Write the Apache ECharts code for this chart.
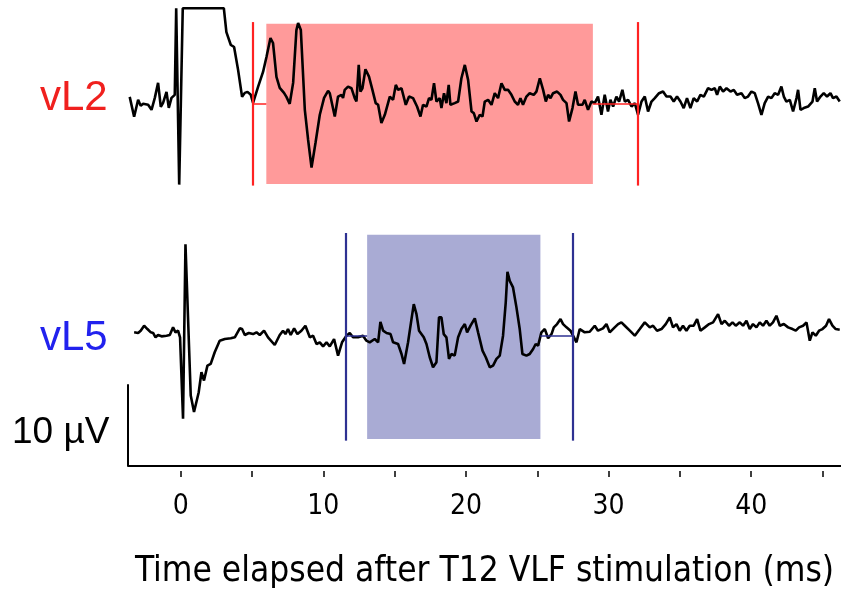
<!DOCTYPE html>
<html>
<head>
<meta charset="utf-8">
<script src="https://cdn.jsdelivr.net/npm/echarts@6/dist/echarts.min.js"></script>
<style>
  html, body { margin: 0; padding: 0; background: #fff; }
  #chart { width: 841px; height: 594px; }
</style>
</head>
<body>
<div id="chart"></div>
<script>
// time (ms) and amplitude (µV, relative to each trace's baseline)
const vL2Trace = [
  [-3.58, 0.85], [-3.27, -1.59], [-2.99, 0.49], [-2.81, -0.24], [-2.64, 0], [-2.29, -0.12], [-2.05, -0.73],
  [-1.82, 0.73], [-1.59, 2.56], [-1.40, -0.37], [-1.24, 0.12], [-1.00, 1.46], [-0.84, -0.49], [-0.65, 0.73],
  [-0.42, 1.10], [-0.32, 11.7], [-0.11, -9.88], [0.14, 11.7], [3.02, 11.7], [3.20, 8.78], [3.51, 7.20],
  [3.74, 6.95], [4.02, 4.15], [4.30, 0.85], [4.49, 1.34], [4.68, 1.46], [4.91, 1.10], [5.07, 0.12],
  [5.42, 2.07], [5.77, 3.90], [6.01, 5.73], [6.29, 8.05], [6.47, 7.44], [6.71, 3.29], [6.94, 1.95],
  [7.24, 1.34], [7.41, 0.85], [7.64, 0], [7.88, 2.56], [8.11, 9.02], [8.23, 9.88], [8.42, 9.02],
  [8.70, -0.73], [8.93, -4.39], [9.17, -7.80], [9.45, -4.76], [9.75, -1.34], [10.05, 0.73], [10.33, 1.59],
  [10.45, 1.30], [10.80, -1.55], [11.03, 0.89], [11.27, 1.10], [11.38, 0.73], [11.50, 1.71], [11.73, 2.11],
  [11.97, 1.91], [12.20, 0.70], [12.32, 0.28], [12.48, 4.76], [12.60, 1.50], [12.74, 1.91], [12.95, 4.23],
  [13.20, 3.33], [13.44, 1.71], [13.67, 0.09], [13.84, -0.12], [14.07, -2.35], [14.31, -1.34], [14.66, 0.89],
  [14.89, 0.49], [15.08, 2.32], [15.24, 1.71], [15.48, 1.91], [15.78, -0.12], [16.01, 0.89], [16.29, 0.70],
  [16.57, -0.33], [16.81, -1.55], [16.99, -0.12], [17.23, -0.33], [17.41, 0.70], [17.58, 0.49], [17.76, 2.52],
  [17.93, 0.28], [18.16, 0.70], [18.28, -0.52], [18.46, 1.30], [18.63, 0.09], [18.79, 2.32], [18.91, -0.12],
  [19.21, 0.09], [19.45, 0.28], [19.68, 3.13], [19.92, 4.76], [20.15, 2.93], [20.39, -0.94], [20.55, -1.13],
  [20.74, -2.16], [20.97, -1.34], [21.16, -1.55], [21.32, 0.28], [21.55, 0.49], [21.79, -0.12], [22.02, 1.30],
  [22.25, 0.70], [22.49, 2.52], [22.72, 1.71], [22.95, 1.71], [23.19, 1.10], [23.42, 0.28], [23.65, -0.12],
  [23.82, 0.70], [24.00, -0.12], [24.24, 0.89], [24.47, 1.30], [24.75, 1.10], [24.94, 1.50], [25.18, 3.13],
  [25.41, 1.71], [25.60, 0.28], [25.76, 1.10], [25.93, 0.70], [26.11, 1.30], [26.39, 1.50], [26.63, 1.10],
  [26.81, 0.49], [27.05, 0.09], [27.23, -2.16], [27.47, -0.52], [27.68, 1.50], [27.86, -0.12], [28.17, -0.12],
  [28.33, 0.49], [28.56, -0.73], [28.80, 0.28], [29.03, 0.09], [29.26, 0.89], [29.50, -1.34], [29.73, 1.10],
  [29.96, -0.94], [30.13, 0.49], [30.32, -0.33], [30.55, 0.89], [30.74, 0.28], [30.97, 1.71], [31.14, 0.28],
  [31.37, 0.49], [31.61, -0.33], [31.84, 0.09], [32.07, -1.34], [32.31, 0.28], [32.54, 0.89], [32.77, -0.94],
  [33.01, 0.28], [33.24, 0.70], [33.54, 1.30], [33.82, 1.50], [34.06, 0.89], [34.34, 0.89], [34.57, 0.28],
  [34.80, 0.89], [35.04, 0.28], [35.27, -0.52], [35.50, 0.70], [35.74, -0.52], [35.97, 0.70], [36.21, 0.28],
  [36.44, 1.10], [36.68, 0.89], [36.98, 1.91], [37.22, 1.71], [37.45, 1.91], [37.61, 1.10], [37.80, 2.11],
  [38.03, 1.50], [38.27, 1.91], [38.55, 1.50], [38.78, 1.71], [39.01, 1.10], [39.32, 1.30], [39.55, 0.70],
  [39.78, 0.89], [40.02, 1.50], [40.25, 1.30], [40.48, 0.09], [40.72, -1.34], [40.95, 0.09], [41.19, 0.89],
  [41.42, 0.70], [41.65, 1.30], [41.89, 1.10], [42.12, 2.11], [42.29, 0.89], [42.47, 0.28], [42.71, 0.49],
  [42.94, -0.94], [43.18, 0.70], [43.29, 1.71], [43.46, -0.73], [43.69, -0.52], [43.99, -0.33], [44.30, 0.28],
  [44.46, 1.91], [44.62, 0.28], [44.86, 0.89], [45.09, 1.30], [45.32, 0.89], [45.56, 1.30], [45.74, 0.70],
  [45.98, 0.89], [46.21, 0.28]
];

const vL5Trace = [
  [-3.27, 0.45], [-2.99, 0.37], [-2.81, 0.65], [-2.57, 1.26], [-2.34, 0.85], [-2.10, 0.45], [-1.94, 0.37],
  [-1.77, -0.16], [-1.59, 0.12], [-1.35, -0.04], [-1.00, 0.04], [-0.77, 0.12], [-0.54, 1.06], [-0.37, 0.45],
  [-0.19, 0.65], [-0.05, -0.16], [0.16, -10.12], [0.33, 11.22], [0.47, 11.22], [0.70, -7.28], [0.93, -9.30],
  [1.26, -6.87], [1.45, -4.43], [1.63, -5.45], [1.87, -3.62], [2.10, -3.41], [2.38, -1.99], [2.73, -0.57],
  [3.09, -0.37], [3.51, -0.28], [3.79, -0.16], [4.14, 0.94], [4.30, 0.85], [4.49, 0.12], [4.77, 0.37],
  [5.07, 0.24], [5.31, 0.45], [5.54, 0.12], [5.84, 0.65], [6.12, -0.16], [6.59, -1.10], [6.94, 0.12],
  [7.17, 0.65], [7.34, 0.24], [7.52, 0.85], [7.71, 0.12], [7.95, 0.94], [8.18, 0.24], [8.46, 0.65],
  [8.74, 1.26], [9.05, -0.16], [9.28, 0.04], [9.52, -0.98], [9.75, -0.77], [9.98, -1.26], [10.22, -0.77],
  [10.45, -1.26], [10.75, -0.37], [11.03, -2.40], [11.31, -0.77], [11.62, 0.04], [11.85, 0.37], [12.08, -0.16],
  [12.43, -0.16], [12.78, 0.04], [13.02, -0.57], [13.25, -0.77], [13.60, -0.37], [13.84, -0.77], [14.00, 1.74],
  [14.19, 0.65], [14.43, 0.37], [14.71, 0.24], [14.89, -0.77], [15.24, -0.98], [15.48, -2.20], [15.66, -3.41],
  [15.94, -0.77], [16.18, 2.07], [16.34, 3.90], [16.53, 2.68], [16.71, 0.65], [17.04, -0.16], [17.23, -0.98],
  [17.46, -2.60], [17.69, -3.82], [17.93, -3.21], [18.11, 2.28], [18.28, 2.28], [18.44, 0.24], [18.63, -0.16],
  [18.81, -2.80], [18.98, -2.20], [19.21, -2.40], [19.45, -0.16], [19.68, 0.85], [19.92, 1.46], [20.08, 0.45],
  [20.32, 1.26], [20.62, 2.16], [20.85, 0.45], [21.16, -1.79], [21.39, -2.60], [21.67, -3.82], [21.90, -3.62],
  [22.14, -2.80], [22.37, -2.40], [22.60, 0.04], [22.79, 4.11], [22.91, 7.84], [23.07, 6.74], [23.30, 5.94],
  [23.54, 3.50], [23.77, 0.85], [23.96, -2.20], [24.24, -2.40], [24.47, -2.20], [24.71, -1.59], [24.89, -0.98],
  [25.06, -1.18], [25.29, 0.45], [25.53, 0.85], [25.76, -0.28], [26.00, 0.24], [26.16, 1.06], [26.39, 1.46],
  [26.63, 2.07], [26.81, 1.46], [27.05, 1.06], [27.33, 0.65], [27.51, 0.04], [27.75, -0.77], [27.98, 0.85],
  [28.33, 0.45], [28.68, 0.52], [29.03, 1.26], [29.26, 0.65], [29.61, 0.94], [29.85, 1.46], [30.08, 0.45],
  [30.43, 1.06], [30.67, 1.46], [30.90, 1.67], [31.14, 1.26], [31.49, 0.65], [31.84, 0.04], [32.19, 0.85],
  [32.54, 1.67], [32.89, 1.06], [33.12, 1.26], [33.40, 0.65], [33.71, 0.85], [34.01, 1.46], [34.29, 2.28],
  [34.52, 1.06], [34.76, 1.46], [34.99, 0.65], [35.22, 1.26], [35.46, 0.65], [35.69, 1.26], [35.97, 1.26],
  [36.21, 2.07], [36.44, 0.65], [36.75, 1.06], [37.05, 1.46], [37.33, 1.67], [37.68, 2.68], [37.92, 1.46],
  [38.15, 1.87], [38.45, 1.26], [38.69, 1.67], [38.92, 1.26], [39.20, 1.67], [39.43, 1.26], [39.67, 1.87],
  [39.90, 0.85], [40.13, 1.46], [40.37, 1.06], [40.60, 1.67], [40.83, 1.26], [41.07, 1.87], [41.30, 1.26],
  [41.53, 1.67], [41.77, 2.48], [42.01, 1.26], [42.29, 1.46], [42.59, 1.06], [42.90, 0.85], [43.13, 0.65],
  [43.36, 1.06], [43.64, 1.26], [43.88, 1.67], [44.11, -0.57], [44.30, 0.45], [44.53, 0.04], [44.76, 0.65],
  [45.00, 0.85], [45.25, 1.26], [45.46, 2.07], [45.70, 1.26], [45.93, 0.85], [46.21, 0.77]
];

// analysis windows (ms): [left line, shade start, shade end, right line]
const vL2Window = [5.05, 6.0, 28.9, 32.05];
const vL5Window = [11.57, 13.07, 25.22, 27.47];
// vertical extent of the window marks (µV around baseline)
const vL2Span = [-10, 10];
const vL5Span = [-12.8, 12.6];

// baseline of each trace on the shared µV axis
const vL2Offset = 44.3;
const vL5Offset = 15.9;

const xTicks = [0, 5, 10, 15, 20, 25, 30, 35, 40, 45];
const xLabels = [0, 10, 20, 30, 40];
const scaleBarUV = 10;

const xMin = -3.7, xMax = 46.3;

function shift(trace, off) {
  return trace.map(p => [p[0], p[1] + off]);
}

function markerSeries(win, span, off, lineColor, shadeColor) {
  return {
    type: 'line',
    data: [],
    silent: true,
    z: 1,
    markArea: {
      silent: true,
      itemStyle: { color: shadeColor, opacity: 1 },
      data: [[{ coord: [win[1], off + span[0] + 0.2] }, { coord: [win[2], off + span[1] - 0.2] }]]
    },
    markLine: {
      silent: true,
      symbol: 'none',
      label: { show: false },
      emphasis: { disabled: true },
      lineStyle: { color: lineColor, width: 2.2, type: 'solid', opacity: 1 },
      data: [
        [{ coord: [win[0], off + span[0]] }, { coord: [win[0], off + span[1]] }],
        [{ coord: [win[3], off + span[0]] }, { coord: [win[3], off + span[1]] }],
        [{ coord: [win[0], off] }, { coord: [win[1], off], lineStyle: { width: 1.5 } }],
        [{ coord: [win[2], off] }, { coord: [win[3], off], lineStyle: { width: 1.5 } }]
      ]
    }
  };
}

const chart = echarts.init(document.getElementById('chart'), null, { renderer: 'canvas' });

const option = {
  animation: false,
  backgroundColor: '#fff',
  grid: { left: 128, right: 0, top: 0, bottom: 127 },
  xAxis: [
    {
      type: 'value', min: xMin, max: xMax, position: 'bottom',
      axisLine: { show: true, onZero: false, lineStyle: { color: '#000', width: 2 } },
      axisTick: { show: false },
      axisLabel: { show: false },
      splitLine: { show: false },
      name: 'Time elapsed after T12 VLF stimulation (ms)',
      nameLocation: 'middle',
      nameGap: 88,
      nameTextStyle: { fontFamily: 'DejaVu Sans Condensed', fontSize: 35, color: '#000' }
    },
    {
      type: 'value', min: xMin, max: xMax, position: 'bottom', offset: 5,
      axisLine: { show: false, onZero: false },
      axisTick: { show: true, length: 6, customValues: xTicks, lineStyle: { color: '#000', width: 1.5 } },
      axisLabel: {
        show: true, customValues: xLabels, margin: 22,
        fontFamily: 'DejaVu Sans Condensed', fontSize: 28, color: '#000'
      },
      splitLine: { show: false }
    }
  ],
  yAxis: { type: 'value', min: 0, max: 57, show: false },
  graphic: [
    { type: 'text', left: 40, top: 77, style: { text: 'vL2', fontFamily: 'Liberation Sans', fontSize: 42, fill: '#f0201e' } },
    { type: 'text', left: 40, top: 317, style: { text: 'vL5', fontFamily: 'Liberation Sans', fontSize: 42, fill: '#2222ee' } },
    { type: 'text', left: 12, top: 414, style: { text: '10 µV', fontFamily: 'Liberation Sans', fontSize: 37, fill: '#000' } }
  ],
  series: [
    markerSeries(vL2Window, vL2Span, vL2Offset, '#ff2222', '#ff9a9a'),
    markerSeries(vL5Window, vL5Span, vL5Offset, '#2e3192', '#a9abd4'),
    {
      name: 'vL2', type: 'line', data: shift(vL2Trace, vL2Offset), showSymbol: false, z: 3,
      lineStyle: { color: '#000', width: 2.6 }, silent: true
    },
    {
      name: 'vL5', type: 'line', data: shift(vL5Trace, vL5Offset), showSymbol: false, z: 3,
      lineStyle: { color: '#000', width: 2.6 }, silent: true
    },
    {
      name: 'scale', type: 'line', data: [[xMin, 0], [xMin, scaleBarUV]], showSymbol: false, clip: false, z: 3,
      lineStyle: { color: '#000', width: 2 }, silent: true
    }
  ]
};

chart.setOption(option);
</script>
</body>
</html>
